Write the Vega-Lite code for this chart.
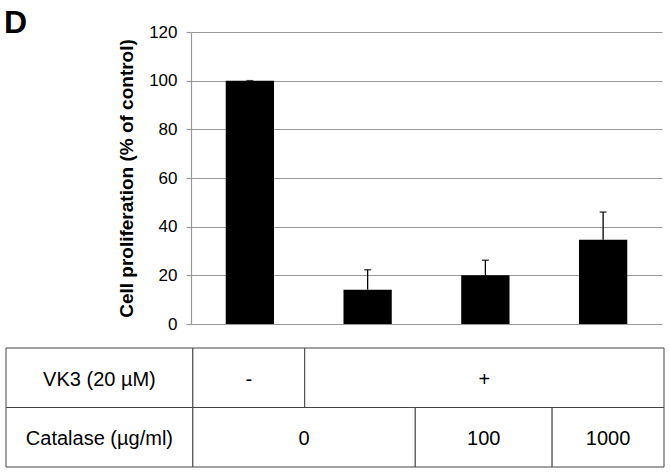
{
  "$schema": "https://vega.github.io/schema/vega-lite/v6.json",
  "width": 471,
  "height": 292,
  "autosize": {"type": "none"},
  "padding": {"left": 191, "top": 32, "right": 8, "bottom": 149},
  "background": "white",
  "config": {
    "view": {"stroke": null},
    "font": "Liberation Sans"
  },
  "title": {
    "text": "D",
    "anchor": "start",
    "frame": "group",
    "fontSize": 32,
    "fontWeight": "bold",
    "font": "Liberation Sans",
    "color": "black",
    "baseline": "alphabetic",
    "dx": -187,
    "dy": 42,
    "offset": 0
  },
  "datasets": {
    "bars": [
      {"cond": "VK3- Cat0", "value": 100, "upper": 100},
      {"cond": "VK3+ Cat0", "value": 14.1, "upper": 22.3},
      {"cond": "VK3+ Cat100", "value": 20.0, "upper": 26.2},
      {"cond": "VK3+ Cat1000", "value": 34.6, "upper": 46.0}
    ],
    "table": [
      {"row": "VK3", "text": "VK3 (20 µM)", "start": 0, "end": 28.4},
      {"row": "VK3", "text": "-", "start": 28.4, "end": 45.4},
      {"row": "VK3", "text": "+", "start": 45.4, "end": 100},
      {"row": "Catalase", "text": "Catalase (µg/ml)", "start": 0, "end": 28.4},
      {"row": "Catalase", "text": "0", "start": 28.4, "end": 62.2},
      {"row": "Catalase", "text": "100", "start": 62.2, "end": 83.0},
      {"row": "Catalase", "text": "1000", "start": 83.0, "end": 100}
    ]
  },
  "layer": [
    {
      "data": {"name": "bars"},
      "encoding": {
        "x": {
          "field": "cond",
          "type": "nominal",
          "sort": null,
          "axis": null,
          "scale": {"paddingInner": 0.59, "paddingOuter": 0.295}
        }
      },
      "layer": [
        {
          "mark": {"type": "bar", "color": "black"},
          "encoding": {
            "y": {
              "field": "value",
              "type": "quantitative",
              "scale": {"domain": [0, 120], "nice": false},
              "axis": {
                "title": "Cell proliferation (% of control)",
                "titleFont": "Liberation Sans",
                "titleFontSize": 19,
                "titleFontWeight": "bold",
                "titleColor": "black",
                "titlePadding": 12,
                "values": [0, 20, 40, 60, 80, 100, 120],
                "labelFont": "Liberation Sans",
                "labelFontSize": 17,
                "labelColor": "black",
                "labelPadding": 9,
                "tickSize": 5,
                "tickColor": "#999999",
                "tickWidth": 1.2,
                "domainColor": "#999999",
                "domainWidth": 1.2,
                "grid": true,
                "gridColor": "#999999",
                "gridWidth": 1.2
              }
            }
          }
        },
        {
          "mark": {"type": "rule", "color": "black", "strokeWidth": 1.3},
          "encoding": {
            "y": {"field": "value", "type": "quantitative"},
            "y2": {"field": "upper"}
          }
        },
        {
          "mark": {"type": "tick", "color": "black", "size": 7, "thickness": 1.5},
          "encoding": {
            "y": {"field": "upper", "type": "quantitative"}
          }
        }
      ]
    },
    {
      "data": {"name": "table"},
      "transform": [{"calculate": "(datum.start + datum.end) / 2", "as": "mid"}],
      "encoding": {
        "y": {
          "field": "row",
          "type": "nominal",
          "sort": ["VK3", "Catalase"],
          "axis": null,
          "scale": {"range": [316, 435], "paddingInner": 0, "paddingOuter": 0}
        }
      },
      "layer": [
        {
          "mark": {"type": "rect", "fill": "white", "stroke": "#444444", "strokeWidth": 1},
          "encoding": {
            "x": {
              "field": "start",
              "type": "quantitative",
              "axis": null,
              "scale": {"domain": [0, 100], "range": [-185, 473], "nice": false, "zero": false}
            },
            "x2": {"field": "end"}
          }
        },
        {
          "mark": {"type": "text", "font": "Liberation Sans", "fontSize": 20, "color": "black", "baseline": "middle", "dy": 2},
          "encoding": {
            "x": {"field": "mid", "type": "quantitative"},
            "text": {"field": "text"}
          }
        }
      ]
    }
  ],
  "resolve": {"scale": {"x": "independent", "y": "independent"}}
}
